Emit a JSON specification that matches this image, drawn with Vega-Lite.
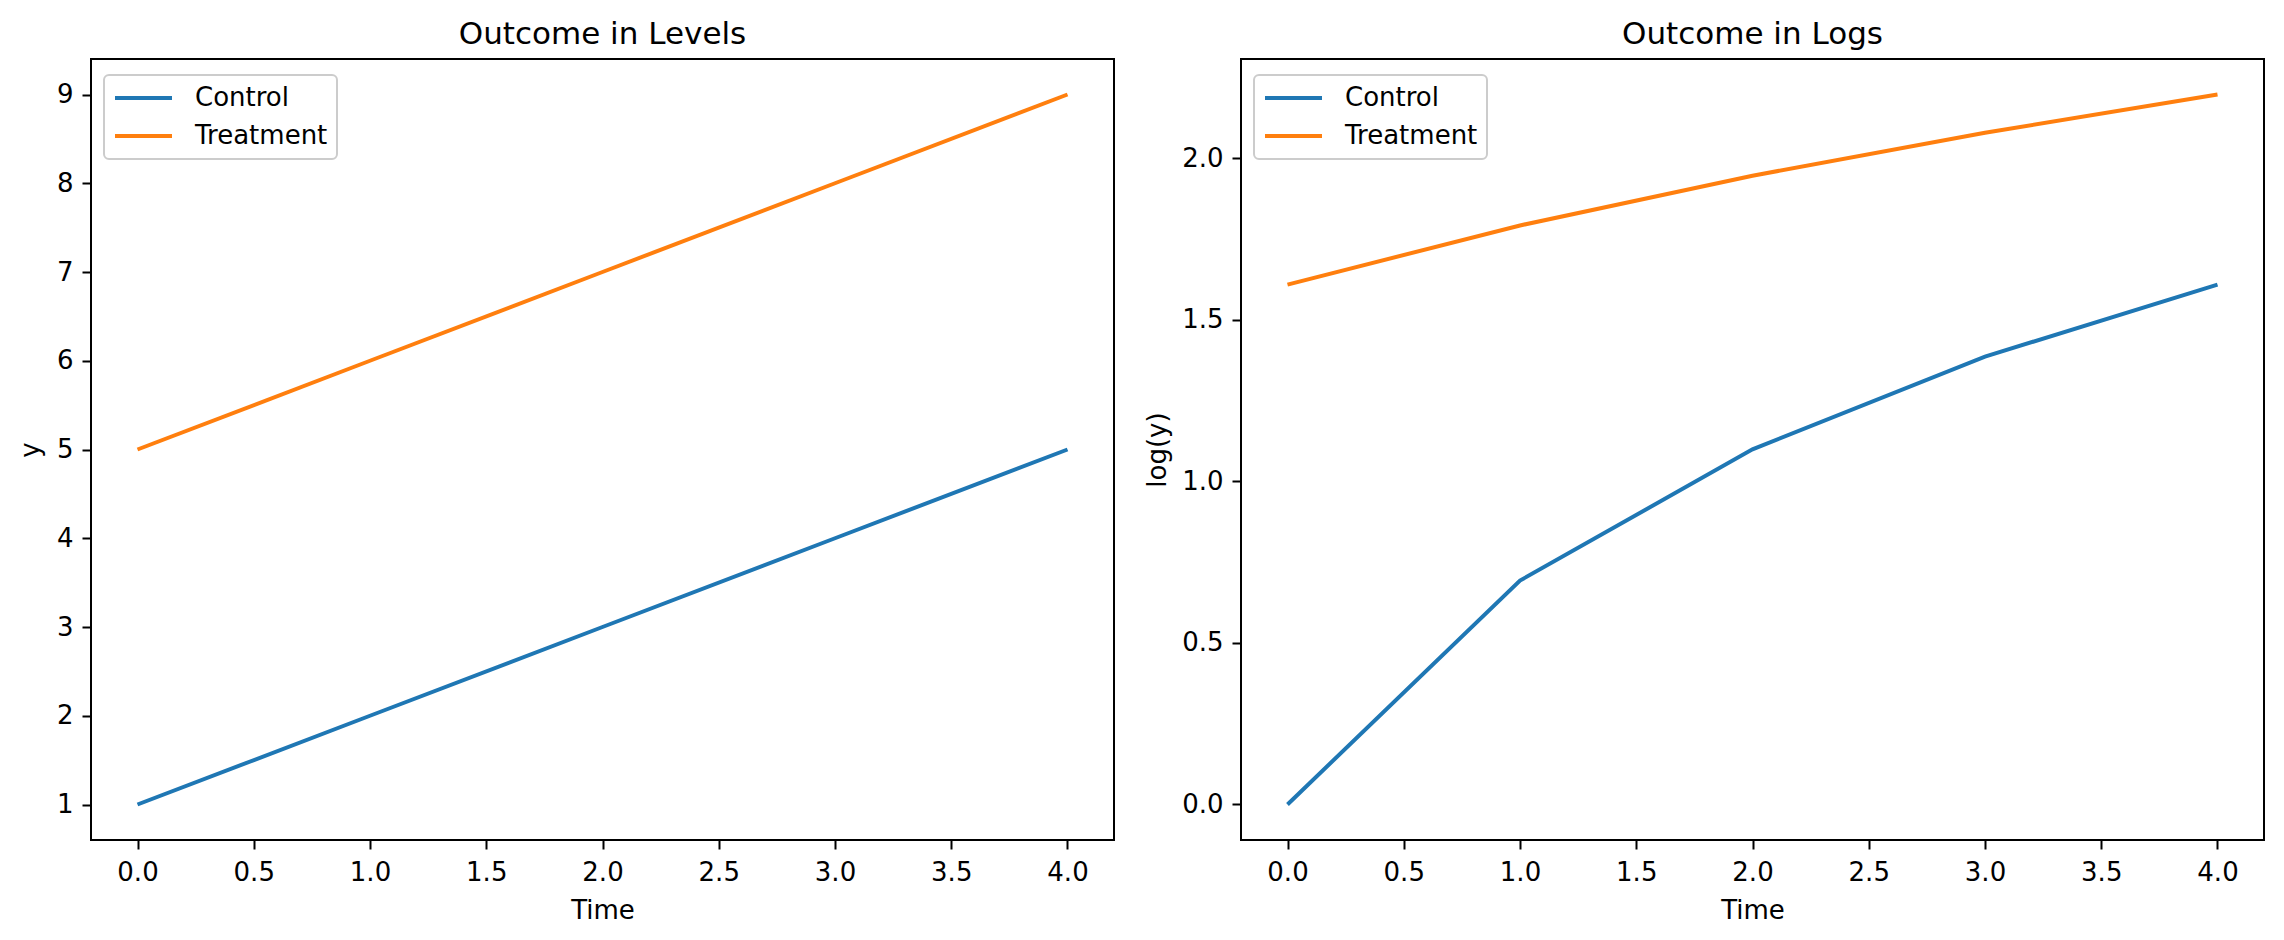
{
  "$schema": "https://vega.github.io/schema/vega-lite/v6.json",
  "background": "white",
  "padding": {"left": 16, "top": 18, "right": 5, "bottom": 5},
  "spacing": 28,
  "datasets": {
    "levels": [
      {"time": 0, "group": "Control", "y": 1},
      {"time": 1, "group": "Control", "y": 2},
      {"time": 2, "group": "Control", "y": 3},
      {"time": 3, "group": "Control", "y": 4},
      {"time": 4, "group": "Control", "y": 5},
      {"time": 0, "group": "Treatment", "y": 5},
      {"time": 1, "group": "Treatment", "y": 6},
      {"time": 2, "group": "Treatment", "y": 7},
      {"time": 3, "group": "Treatment", "y": 8},
      {"time": 4, "group": "Treatment", "y": 9}
    ],
    "logs": [
      {"time": 0, "group": "Control", "logy": 0.0},
      {"time": 1, "group": "Control", "logy": 0.693},
      {"time": 2, "group": "Control", "logy": 1.099},
      {"time": 3, "group": "Control", "logy": 1.386},
      {"time": 4, "group": "Control", "logy": 1.609},
      {"time": 0, "group": "Treatment", "logy": 1.609},
      {"time": 1, "group": "Treatment", "logy": 1.792},
      {"time": 2, "group": "Treatment", "logy": 1.946},
      {"time": 3, "group": "Treatment", "logy": 2.079},
      {"time": 4, "group": "Treatment", "logy": 2.197}
    ]
  },
  "hconcat": [
    {
      "width": 1023,
      "height": 781,
      "title": "Outcome in Levels",
      "data": {"name": "levels"},
      "mark": {"type": "line", "strokeWidth": 4, "clip": true},
      "encoding": {
        "x": {"field": "time", "type": "quantitative", "title": "Time",
              "scale": {"domain": [-0.2, 4.2], "nice": false, "zero": false},
              "axis": {"values": [0, 0.5, 1, 1.5, 2, 2.5, 3, 3.5, 4], "format": ".1f"}},
        "y": {"field": "y", "type": "quantitative", "title": "y",
              "scale": {"domain": [0.6, 9.4], "nice": false, "zero": false},
              "axis": {"values": [1, 2, 3, 4, 5, 6, 7, 8, 9], "format": "d", "titlePadding": 13}},
        "color": {"field": "group", "type": "nominal",
                  "scale": {"domain": ["Control", "Treatment"], "range": ["#1f77b4", "#ff7f0e"]},
                  "legend": {"orient": "none", "legendX": 13, "legendY": 16, "title": null}}
      }
    },
    {
      "width": 1023,
      "height": 781,
      "title": "Outcome in Logs",
      "data": {"name": "logs"},
      "mark": {"type": "line", "strokeWidth": 4, "clip": true},
      "encoding": {
        "x": {"field": "time", "type": "quantitative", "title": "Time",
              "scale": {"domain": [-0.2, 4.2], "nice": false, "zero": false},
              "axis": {"values": [0, 0.5, 1, 1.5, 2, 2.5, 3, 3.5, 4], "format": ".1f"}},
        "y": {"field": "logy", "type": "quantitative", "title": "log(y)",
              "scale": {"domain": [-0.1099, 2.3071], "nice": false, "zero": false},
              "axis": {"values": [0, 0.5, 1, 1.5, 2], "format": ".1f", "titlePadding": 11}},
        "color": {"field": "group", "type": "nominal",
                  "scale": {"domain": ["Control", "Treatment"], "range": ["#1f77b4", "#ff7f0e"]},
                  "legend": {"orient": "none", "legendX": 13, "legendY": 16, "title": null}}
      }
    }
  ],
  "resolve": {
    "scale": {"x": "independent", "y": "independent", "color": "independent"},
    "legend": {"color": "independent"}
  },
  "config": {
    "font": "DejaVu Sans",
    "view": {"stroke": "black", "strokeWidth": 2},
    "axis": {
      "domain": false,
      "grid": false,
      "ticks": true,
      "tickColor": "black",
      "tickWidth": 2,
      "tickSize": 9,
      "labelFont": "DejaVu Sans",
      "labelFontSize": 26,
      "labelColor": "black",
      "labelPadding": 9,
      "labelFlush": false,
      "labelOverlap": false,
      "labelBound": false,
      "titleFont": "DejaVu Sans",
      "titleFontSize": 26,
      "titleFontWeight": "normal",
      "titleColor": "black"
    },
    "axisX": {"titlePadding": 12, "labelPadding": 10},
    "legend": {
      "symbolType": "stroke",
      "symbolSize": 3249,
      "symbolStrokeWidth": 4,
      "labelFont": "DejaVu Sans",
      "labelFontSize": 26,
      "labelColor": "black",
      "labelOffset": 21,
      "clipHeight": 28,
      "rowPadding": 10,
      "padding": 9,
      "strokeColor": "#cccccc",
      "strokeWidth": 2,
      "fillColor": "rgba(255,255,255,0.8)",
      "cornerRadius": 5
    },
    "title": {
      "font": "DejaVu Sans",
      "fontSize": 31,
      "fontWeight": "normal",
      "color": "black",
      "offset": 8
    }
  }
}
